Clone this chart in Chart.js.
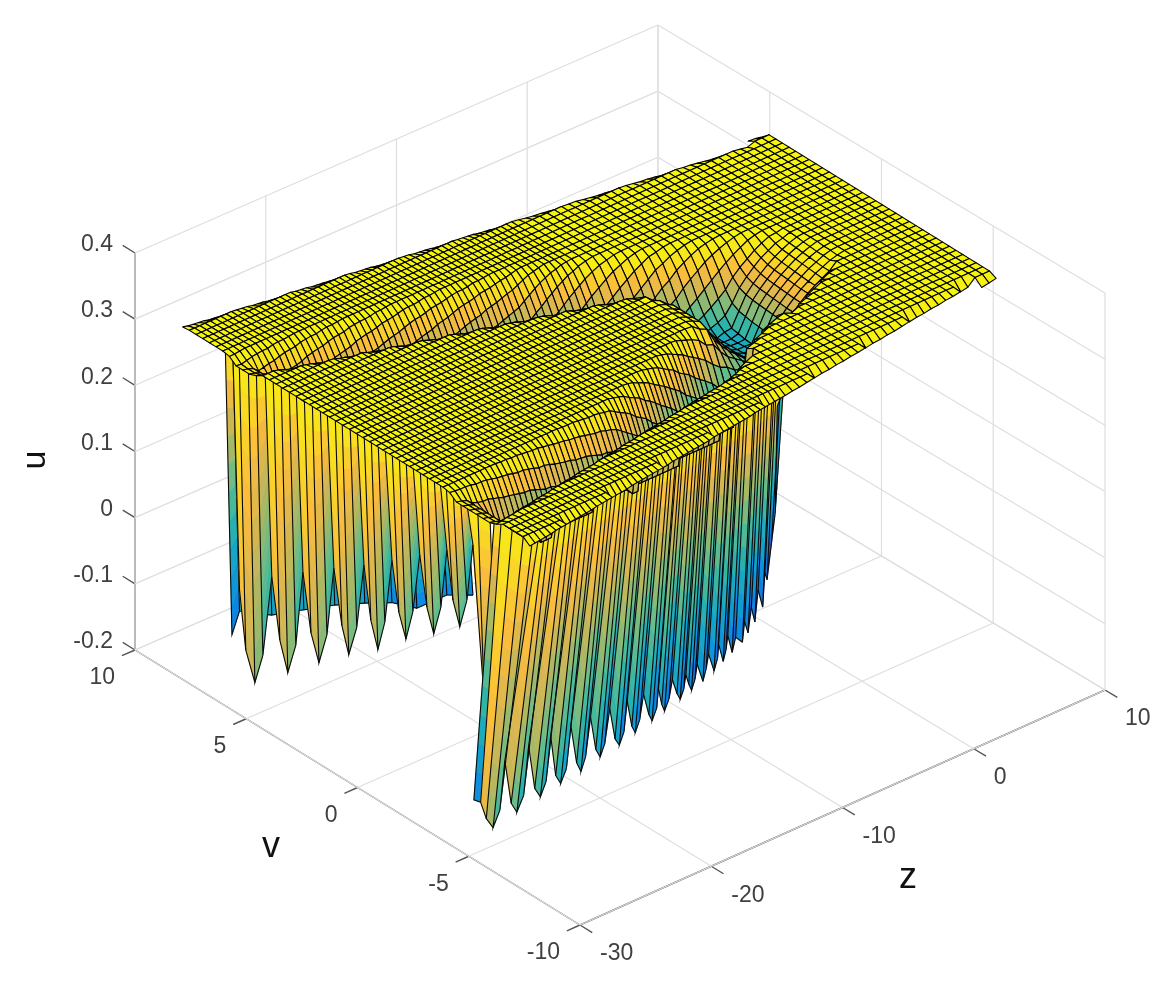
<!DOCTYPE html>
<html>
<head>
<meta charset="utf-8">
<title>u(z, v)</title>
<script src="https://cdn.jsdelivr.net/npm/chart.js@4/dist/chart.umd.min.js"></script>
<style>
html, body { margin: 0; background: #fff; }
#wrap { width: 1176px; height: 986px; }
</style>
</head>
<body>
<div id="wrap"><canvas id="chart"></canvas></div>
<script>
// ---- axes ----
const uTicks = [-0.2, -0.1, 0, 0.1, 0.2, 0.3, 0.4];
const vTicks = [10, 5, 0, -5, -10];
const zTicks = [-30, -20, -10, 0, 10];
const uLabels = ['-0.2', '-0.1', '0', '0.1', '0.2', '0.3', '0.4'];
const vLabels = ['10', '5', '0', '-5', '-10'];
const zLabels = ['-30', '-20', '-10', '0', '10'];

// ---- mesh of the surface ----
const zGrid = [-28.4,-28,-27.6,-27.2,-26.8,-26.4,-26,-25.6,-25.2,-24.8,-24.4,-24,-23.6,-23.2,-22.8,-22.4,-22,-21.6,-21.2,-20.8,-20.4,-20,-19.6,-19.2,-18.8,-18.4,-18,-17.6,-17.2,-16.8,-16.4,-16,-15.6,-15.2,-14.8,-14.4,-14,-13.6,-13.2,-12.8,-12.4,-12,-11.6,-11.2,-10.8,-10.4,-10,-9.6,-9.2,-8.8,-8.4,-8,-7.6,-7.2,-6.8,-6.4,-5.85,-5.3,-4.75,-4.2,-3.65,-3.1,-2.55,-2,-1.45,-0.9,-0.35,0.2,0.75,1.3,1.85,2.4,2.95,3.5,4.05,4.6,5.15,5.7,6.25,6.8,7.35,7.9,8.45,9,9.55,10.1,10.65,11.2];
const vGrid = [-7.1,-6.8,-6.5,-6.2,-5.9,-5.6,-5.3,-5,-4.7,-4.4,-4.1,-3.8,-3.5,-3.2,-2.9,-2.6,-2.3,-2,-1.7,-1.4,-1.1,-0.8,-0.5,-0.2,0.1,0.4,0.7,1,1.3,1.6,1.9,2.2,2.5,2.8,3.1,3.4,3.7,4,4.3,4.6,4.9,5.2,5.5,5.8,6.1,6.4,6.7,7,7.3,7.6,7.9,8.2,8.5,8.8,9.1];
// u in thousandths, one row per zGrid entry, columns along vGrid. "_n" = n empty cells, "a*n" = a repeated n times
const uRows = [
'_1 292 300*4 294 290*6 298 300*28 294 290*3 298 300*6 299',
'_1 293 300*4 295 288*6 297 300*28 291 288*2 289 298 300*6 297',
'_1 294 300*4 297 285*6 296 300*28 288 285*2 291 299 300*6 296',
'_1 295 300*4 298 275*5 278 296 300*27 298 275*2 278 293 300*7 295',
'_1 296 300*4 299 268*5 275 295 300*27 295 268*2 280 294 300*7 294',
'_1 298 300*5 289 258*4 273 293 300*27 292 258 262 282 295 300*7 292',
'_1 299 300*5 290 250*4 273 293 300*27 289 250 264 283 295 300*7 291',
'_1 300*6 291 241*3 243 270 292 300*26 298 241 246 268 286 297 300*7 290',
'_2 289 300*4 292 232*3 240 268 290 300*26 296 232 248 270 288 298 300*7 289',
'_2 290 300*4 294 225*3 237 265 288 300*26 293 229 250 272 289 298 300*6 299',
'_2 291 300*4 295 225*3 236 264 287 300*26 290 231 253 274 290 299 300*6 298',
'_2 292 300*4 296 215*3 234 262 286 299 300*24 299 217 235 257 278 293 300*7 297',
'_2 293 300*4 298 215*3 231 260 284 299 300*24 296 218 237 259 280 294 300*7 295',
'_2 294 300*4 299 215*3 228 258 282 298 300*24 294 220 239 262 282 295 300*7 294',
'_2 296 300*5 288 215*2 228 258 282 298 300*24 291 222 241 264 283 295 300*7 293',
'_2 297 300*5 290 215*2 225 255 280 297 300*24 288 225 246 268 286 297 300*7 291',
'_2 298 300*5 291 215*2 222 252 278 296 300*23 297 211 227 248 270 288 298 300*7 290',
'_2 299 300*5 292 215*2 219 249 275 295 300*23 294 212 229 250 272 289 298 300*7 289',
'_3 288 300*4 294 215*2 219 249 275 295 300*23 292 214 231 253 274 290 299 300*7',
'_3 289 300*4 295 215*2 216 246 273 293 300*23 289 217 235 257 278 293 300*7 298',
'_3 290 300*4 296 215*3 243 270 292 300*22 298 205 218 237 259 280 294 300*7 297',
'_3 291 300*4 297 215*3 240 268 290 300*22 295 206 220 239 262 282 295 300*7 296',
'_3 293 300*4 299 215*3 238 266 289 300*22 292 208 222 241 264 283 295 300*7 294',
'_3 294 300*5 288 215*2 237 265 288 300*22 290 209 224 245 267 285 296 300*7 293',
'_3 295 300*5 289 215*2 234 262 286 299 300*20 299 201 211 227 248 270 288 298 300*7 292',
'_3 296 300*5 291 215*2 232 261 285 299 300*20 296 201 212 229 250 272 289 298 300*7 291',
'_3 297 300*5 292 215*2 231 260 284 299 300*20 293 202 214 231 253 274 290 299 300*7 289',
'_3 298 300*5 293 215*2 228 258 282 298 300*20 290 204 216 234 256 277 292 300*8 288',
'_3 299 300*5 295 215*2 225 255 280 297 300*20 198 205 218 237 259 280 294 300*7 299',
'_4 288 300*4 296 215*2 222 252 278 296 300*19 297 199 206 220 239 262 282 295 300*7 297',
'_4 289 300*4 297 215*2 222 252 278 296 300*19 294 199 208 222 241 264 283 295 300*7 296',
'_4 291 300*4 299 205*2 219 249 275 295 300*19 291 200 210 223 244 266 285 296 300*7 295',
'_4 292 300*5 205*2 216 246 273 293 300*19 288 201 211 227 248 270 288 298 300*7 294',
'_4 293 300*5 289 205 213 243 270 292 300*18 298 198 201 212 229 250 272 289 298 300*7 292',
'_4 294 300*5 291 205 206 236 264 287 300*18 295 198 202 214 231 253 274 290 299 300*7 291',
'_4 295 300*5 292 205*2 228 258 282 298 300*17 292 198 204 216 234 256 277 292 300*8 290',
'_4 296 300*5 293 205*2 222 252 278 296 300*17 289 198 205 218 237 259 280 294 300*8 288',
'_4 297 300*5 294 205*2 216 246 273 293 300*16 298 198 199 206 220 239 262 282 295 300*7 299',
'_4 298 300*5 296 205*2 207 237 265 288 300*16 296 198 199 208 222 241 264 283 295 300*7 298',
'_4 300*6 297 205*3 231 260 284 299 300*15 293 198 200 210 223 244 266 285 296 300*7 296',
'_5 289 300*4 298 205*3 225 255 280 297 300*15 290 198 201 211 227 248 270 288 298 300*7 295',
'_5 290 300*5 205*3 216 246 273 293 300*14 299 198 198 201 212 229 250 272 289 298 300*7 294',
'_5 291 300*5 289 205*2 210 240 268 290 300*14 297 198 198 202 214 231 253 274 290 299 300*7 293',
'_5 292 300*5 290 205*3 234 262 286 299 300*13 294 198 198 204 216 234 256 277 292 300*8 291',
'_5 293 300*5 292 205*3 225 255 280 297 300*13 291 198 198 205 218 237 259 280 294 300*8 290',
'_5 294 300*5 293 205*3 219 249 275 295 300*13 288 198 199 206 220 239 262 282 295 300*8 289',
'_5 295 300*5 294 205*3 213 243 270 292 300*12 297 198 198 200 210 225 246 268 286 297 300*7 299',
'_5 296 300*5 296 205*3 206 236 264 287 300*12 294 198 198 202 214 231 253 274 290 299 300*7 298',
'_5 298 300*5 297 205*4 228 258 282 298 300*11 292 198 198 205 218 237 259 280 294 300*8 297',
'_5 299 300*5 298 205*4 222 252 278 296 300*11 289 198 200 210 223 244 266 285 296 300*8 296',
'_5 300*7 205*4 213 243 270 292 300*10 298 198 198 201 212 229 250 272 289 298 300*8 294',
'_6 289 300*5 289 205*3 207 237 265 288 300*10 295 198 198 205 217 235 257 278 293 300*9 293',
'_6 290 300*5 291 205*4 231 260 284 299 300*9 292 198 199 208 222 241 264 283 295 300*9 292',
'_6 291 300*5 294 205*4 222 252 278 296 300*9 290 198 201 211 227 248 270 288 298 300*9 290',
'_6 292 300*5 298 205*4 216 246 273 293 300*8 299 198 198 203 215 233 255 276 291 299 300*9 289',
'_6 293 300*6 289 205*3 210 240 268 290 300*8 296 198 199 206 220 239 262 282 295 300*10',
'_6 295 300*6 295 205*4 231 260 284 299 300*7 292 198 201 211 227 248 270 288 298 300*9 298',
'_6 296 300*7 205*4 219 249 272 290 296*6 290 270 198 205 217 235 257 278 293 300*10 296',
'_6 298 300*8 293 205*2 210 240 268 285 290*5 286 272 250 200 210 223 244 266 285 296 300*10 294',
'_6 300*9 297 205*2 215 235 252 264 272 276 278*3 274 262 238 202 214 231 253 274 290 299 300*10 293',
'_7 289 300*8 290 205 212 226 240 250 256 260 262*2 260 252 238 218 206 220 239 262 282 295 300*11 291',
'_7 291 300*8 295 205 210 222 232 238 242 245*3 243 236 225 212 212 228 249 271 288 298 300*11 289',
'_7 292 300*9 288 205 218 224 228 230*2 229 228 224 218 210 206 218 237 259 280 294 300*11 299',
'_7 294 300*9 293 205 212 216 218*3 217 215 212 208 204 204 224 244 266 285 296 300*11 298',
'_7 295 300*9 297 205*2 207 208*2 207 206 205 204 203*2 216 233 255 276 291 299 300*11 296',
'_7 297 300*10 290 203*3 202*2 201*2 200*2 208 222 241 264 283 295 300*12 294',
'_7 298 300*9 295 200*3 203*2 202 201 200*2 204 212 229 250 272 289 298 300*12 292',
'_7 300*11 198*3 199 200*3 201 203 205 218 237 259 280 294 300*13 291',
'_8 289 300*9 293 218*3 219 220 221 222 224 226 232 246 268 286 297 300*13 289',
'_8 291 300*9 297 238 240*3 241 242 243 244 246 250 260 276 291 299 300*12 299',
'_8 292 300*10 290 250 252*2 253 254 255 256 258 262 270 283 295 300*13 297',
'_8 294 300*10 295 260 262*2 263 264 265 266 268 272 278 289 298 300*13 295',
'_8 295 300*11 270 271*2 272 273 274 275 277 281 286 295 300*14 294',
'_8 297 300*11 293 278*2 279 280 281 282 284 287 292 298 300*14 292',
'_8 299 300*11 298 284 285 286 287 288 289 290 293 297 300*15 290',
'_9 288 300*11 290 290 291 292 293 294 295 296 298 300*15 288',
'_9 290 300*12 295 296*2 297 298 299 300*16 298',
'_9 291 300*12 298 299*2 300*19 297',
'_9 293 300*34 295',
'_9 294 300*34 293',
'_9 296 300*34 291',
'_9 297 300*34 290',
'_9 299 300*34',
'_10 288 300*32 298',
'_10 290 300*32 296',
'_9 291 300*34 294',
'_9 293 300*34 293',
'_9 295 300*34 291'
];

// ---- folded sheet hanging below the front of the surface ----
const rightTopZ = [-28.2,-28.2,-28.2,-28.2,-28.2,-27.39,-26.9,-26.46,-25.94,-25.54,-25.06,-24.62,-24.18,-23.82,-23.43,-23.03,-22.59,-22.24,-21.8,-21.45,-21.1,-20.7,-20.3,-19.95,-19.6,-19.2,-18.8,-18.46,-18.1,-17.84,-17.49,-17.22,-16.87,-16.56,-16.17,-15.9,-15.55,-15.42,-15.16,-14.94,-14.58,-14.32,-13.97,-13.7,-13.44,-13.26,-13.04,-12.82,-12.56,-12.38,-11.94,-11.68,-11.5,-11.06,-10.8,-10.71,-10.36,-10.14,-10,-9.66,-9.39,-8.86,-8.69,-8.42,-8.16,-7.9,-7.63,-7.28,-7.1,-6.93,-6.58,-6.31,-6.14];
const rightTopV = [-5.1,-5.4,-5.9,-6.4,-6.8,-6.63,-6.6,-6.56,-6.53,-6.5,-6.47,-6.44,-6.41,-6.38,-6.35,-6.33,-6.29,-6.27,-6.24,-6.21,-6.19,-6.16,-6.14,-6.11,-6.09,-6.06,-6.03,-6.01,-5.98,-5.96,-5.94,-5.92,-5.9,-5.87,-5.85,-5.83,-5.8,-5.79,-5.78,-5.76,-5.74,-5.72,-5.69,-5.67,-5.66,-5.64,-5.63,-5.61,-5.6,-5.58,-5.55,-5.53,-5.52,-5.49,-5.47,-5.47,-5.44,-5.43,-5.42,-5.39,-5.37,-5.34,-5.32,-5.31,-5.29,-5.27,-5.25,-5.23,-5.21,-5.2,-5.18,-5.16,-5.15];
const rightBotZ = [-30,-29.4,-28.9,-28.3,-27.7,-27.25,-26.7,-26.2,-25.6,-25.15,-24.6,-24.1,-23.6,-23.2,-22.75,-22.3,-21.8,-21.4,-20.9,-20.5,-20.1,-19.65,-19.2,-18.8,-18.4,-17.95,-17.5,-17.1,-16.7,-16.4,-16,-15.7,-15.3,-14.95,-14.5,-14.2,-13.8,-13.65,-13.35,-13.1,-12.7,-12.4,-12,-11.7,-11.4,-11.2,-10.95,-10.7,-10.4,-10.2,-9.7,-9.4,-9.2,-8.7,-8.4,-8.3,-7.9,-7.65,-7.5,-7.1,-6.8,-6.2,-6,-5.7,-5.4,-5.1,-4.8,-4.4,-4.2,-4,-3.6,-3.3,-3.1];
const rightBotV = [-5.23,-5.18,-5.14,-5.09,-5.04,-5,-4.96,-4.92,-4.87,-4.83,-4.78,-4.74,-4.7,-4.67,-4.63,-4.59,-4.55,-4.52,-4.48,-4.44,-4.41,-4.37,-4.34,-4.3,-4.27,-4.23,-4.2,-4.16,-4.13,-4.1,-4.07,-4.05,-4.01,-3.98,-3.95,-3.92,-3.89,-3.88,-3.85,-3.83,-3.8,-3.77,-3.74,-3.71,-3.69,-3.67,-3.65,-3.63,-3.61,-3.59,-3.55,-3.52,-3.51,-3.46,-3.44,-3.43,-3.4,-3.38,-3.37,-3.33,-3.31,-3.26,-3.24,-3.22,-3.19,-3.17,-3.14,-3.11,-3.09,-3.07,-3.04,-3.02,-3];
const rightBotU = [-0.11,-0.12,-0.15,-0.17,-0.15,-0.08,-0.15,-0.169,-0.15,-0.08,-0.15,-0.168,-0.15,-0.085,-0.15,-0.167,-0.15,-0.09,-0.15,-0.168,-0.15,-0.095,-0.148,-0.164,-0.148,-0.1,-0.15,-0.164,-0.148,-0.105,-0.147,-0.16,-0.145,-0.11,-0.145,-0.158,-0.143,-0.115,-0.142,-0.155,-0.14,-0.115,-0.14,-0.152,-0.14,-0.12,-0.137,-0.149,-0.135,-0.115,-0.146,-0.13,-0.11,-0.141,-0.125,-0.105,-0.135,-0.12,-0.1,-0.13,-0.11,-0.124,-0.095,-0.115,-0.08,-0.105,-0.06,-0.09,-0.04,-0.053,0,0.04,0.2];
const rightTone = [178,262,240,215,195,250,225,205,190,240,215,198,185,232,205,190,178,222,200,185,172,215,195,180,168,210,190,175,165,205,185,172,162,200,182,170,160,198,180,168,158,195,178,165,155,192,175,162,152,185,165,152,182,162,150,180,160,150,175,155,175,155,172,152,170,150,168,148,165,145,180,160];

const leftTopZ = -28.3, leftBotZ = -27.8;
const leftV = [6.6,6.32,5.91,5.55,5.15,4.79,4.43,4.07,3.75,3.39,3.03,2.67,2.36,2,1.69,1.33,1.01,0.7,0.38,0.07,-0.25,-0.56,-0.88,-1.19,-1.5,-1.82,-2.13,-2.45,-2.72,-2.99,-3.3,-3.62,-3.89,-4.4,-4.95];
const leftU = [-0.058,-0.143,-0.184,-0.135,-0.008,-0.096,-0.138,-0.089,0.028,-0.056,-0.094,-0.044,0.063,-0.016,-0.054,-0.005,0.096,0.019,-0.019,0.029,0.129,0.057,0.023,0.071,0.163,0.091,0.057,0.104,0.196,0.126,0.092,0.139,0.228,0.004,0.016];
const leftTone = [270,250,232,212,268,250,232,212,268,250,232,212,268,248,228,208,266,245,225,205,266,245,222,202,264,240,222,200,262,240,220,198,265,240];

const backV = [6.94,6.6,5.15,3.71,2.32,0.97,-0.25,-1.37,-2.72,-3.89];
const backU = [-0.133,-0.09,-0.066,-0.028,0.008,0.039,0.065,0.08,0.128,0.152];
const backTone = [172,195,190,195,190,180,175,175,175];

// ---- colours: tone value (thousandths) to colour ----
const toneStops  = [120, 150, 165, 180, 195, 210, 225, 240, 255, 270, 285, 300];
const toneColors = ['#35259a', '#2a45c8', '#0f6fe0', '#0d8ce2', '#12a3ca', '#2cb3a8', '#62bc8c', '#a2b868', '#d4b652', '#fbbc3c', '#f8e01e', '#f6f60c'];
const wallTopTone = 292;

// projection onto the page
function projX(z, v) { return 580 + (z + 30) * 13.125 - (v + 10) * 22.25; }
function projY(z, v, u) { return 925 - (z + 30) * 5.875 - (v + 10) * 13.75 - (u + 0.2) * 661.7; }
function pt(z, v, u) { return { x: projX(z, v), y: projY(z, v, u) }; }
// the box in the picture is a little keystoned at its far corner
function boxPt(z, v, u) {
    const k = (z + 30) * (v + 10);
    return { x: projX(z, v) - k * 0.0025, y: projY(z, v, u) + k * 0.00875 };
}

function parseRow(s) {
    const out = [];
    s.split(' ').forEach(t => {
        if (t[0] === '_') {
            for (let n = +t.slice(1); n > 0; n--) out.push(null);
        } else {
            const [a, b] = t.split('*');
            for (let n = +(b || 1); n > 0; n--) out.push(+a);
        }
    });
    while (out.length < vGrid.length) out.push(null);
    return out;
}
const uTable = uRows.map(parseRow);

function hexRgb(h) { return [1, 3, 5].map(i => parseInt(h.slice(i, i + 2), 16)); }
const toneRgb = toneColors.map(hexRgb);
function toneColor(t) {
    if (t <= toneStops[0]) return toneColors[0];
    for (let i = 1; i < toneStops.length; i++) {
        if (t <= toneStops[i]) {
            const f = (t - toneStops[i - 1]) / (toneStops[i] - toneStops[i - 1]);
            const c = toneRgb[i - 1].map((a, k) => Math.round(a + (toneRgb[i][k] - a) * f));
            return `rgb(${c[0]},${c[1]},${c[2]})`;
        }
    }
    return toneColors[toneColors.length - 1];
}

// ---- datasets ----
const surfacePoints = [];
zGrid.forEach((z, i) => vGrid.forEach((v, j) => {
    const u = uTable[i][j];
    surfacePoints.push(u === null ? { x: null, y: null } : pt(z, v, u / 1000));
}));
const backPoints = [...backV.map(v => pt(leftTopZ, v, 0.3)), ...backV.map((v, k) => pt(leftBotZ, v, backU[k]))];
const leftPoints = [...leftV.map(v => pt(leftTopZ, v, 0.3)), ...leftV.map((v, k) => pt(leftBotZ, v, leftU[k]))];
const rightPoints = [...rightTopZ.map((z, k) => pt(z, rightTopV[k], 0.3)), ...rightBotZ.map((z, k) => pt(z, rightBotV[k], rightBotU[k]))];

const datasets = [
    { label: 'surface', data: surfacePoints, pointRadius: 0, showLine: false },
    { label: 'back sheet', data: backPoints, pointRadius: 0, showLine: false },
    { label: 'left sheet', data: leftPoints, pointRadius: 0, showLine: false },
    { label: 'right sheet', data: rightPoints, pointRadius: 0, showLine: false }
];
function addLine(points, color, width) {
    datasets.push({ data: points, showLine: true, pointRadius: 0, borderColor: color, borderWidth: width, fill: false });
}
const gridColor = '#dedede', axisColor = '#555555';
const uMin = uTicks[0], uMax = uTicks[uTicks.length - 1];
uTicks.forEach(u => {
    addLine([boxPt(-30, 10, u), boxPt(10, 10, u)], gridColor, 1.2);
    addLine([boxPt(10, 10, u), boxPt(10, -10, u)], gridColor, 1.2);
});
zTicks.forEach(z => {
    addLine([boxPt(z, 10, uMin), boxPt(z, 10, uMax)], gridColor, 1.2);
    addLine([boxPt(z, -10, uMin), boxPt(z, 10, uMin)], gridColor, 1.2);
});
vTicks.forEach(v => {
    addLine([boxPt(10, v, uMin), boxPt(10, v, uMax)], gridColor, 1.2);
    addLine([boxPt(-30, v, uMin), boxPt(10, v, uMin)], gridColor, 1.2);
});
addLine([boxPt(-30, 10, uMin), boxPt(-30, 10, uMax)], axisColor, 1.4);
addLine([boxPt(-30, 10, uMin), boxPt(-30, -10, uMin)], axisColor, 1.4);
addLine([boxPt(-30, -10, uMin), boxPt(10, -10, uMin)], axisColor, 1.4);
uTicks.forEach(u => addLine([boxPt(-30, 10, u), boxPt(-30, 10.55, u)], axisColor, 1.4));
vTicks.forEach(v => addLine([boxPt(-30, v, uMin), boxPt(-31, v, uMin)], axisColor, 1.4));
zTicks.forEach(z => addLine([boxPt(z, -10, uMin), boxPt(z, -10.55, uMin)], axisColor, 1.4));

// ---- drawing of the mesh from the points the scales placed ----
function drawSheet(ctx, pts, tones) {
    const n = pts.length / 2, segs = 10;
    for (let k = 0; k < n - 1; k++) {
        const a = pts[k], b = pts[k + 1], c = pts[n + k + 1], d = pts[n + k];
        for (let s = 0; s < segs; s++) {
            const t0 = s / segs, t1 = (s + 1) / segs;
            const col = toneColor(wallTopTone + (tones[k] - wallTopTone) * Math.pow((t0 + t1) / 2, 0.8));
            ctx.beginPath();
            ctx.moveTo(a.x + (d.x - a.x) * t0, a.y + (d.y - a.y) * t0);
            ctx.lineTo(b.x + (c.x - b.x) * t0, b.y + (c.y - b.y) * t0);
            ctx.lineTo(b.x + (c.x - b.x) * t1, b.y + (c.y - b.y) * t1);
            ctx.lineTo(a.x + (d.x - a.x) * t1, a.y + (d.y - a.y) * t1);
            ctx.closePath();
            ctx.fillStyle = col;
            ctx.strokeStyle = col;
            ctx.lineWidth = 0.5;
            ctx.fill();
            ctx.stroke();
        }
    }
    ctx.strokeStyle = '#0a0a0a';
    ctx.lineWidth = 1.1;
    for (let k = 0; k < n; k++) {
        ctx.beginPath();
        ctx.moveTo(pts[k].x, pts[k].y);
        ctx.lineTo(pts[n + k].x, pts[n + k].y);
        if (k < n - 1) ctx.lineTo(pts[n + k + 1].x, pts[n + k + 1].y);
        ctx.stroke();
    }
}

function drawSurface(ctx, pts) {
    const nc = vGrid.length;
    ctx.lineWidth = 1.1;
    ctx.strokeStyle = '#000';
    ctx.lineJoin = 'round';
    for (let i = zGrid.length - 2; i >= 0; i--) {
        for (let j = nc - 2; j >= 0; j--) {
            const q = [uTable[i][j], uTable[i][j + 1], uTable[i + 1][j + 1], uTable[i + 1][j]];
            if (q.some(x => x === null)) continue;
            const tone = (q[0] + q[1] + q[2] + q[3]) / 4;
            const a = pts[i * nc + j], b = pts[i * nc + j + 1], c = pts[(i + 1) * nc + j + 1], d = pts[(i + 1) * nc + j];
            ctx.beginPath();
            ctx.moveTo(a.x, a.y);
            ctx.lineTo(b.x, b.y);
            ctx.lineTo(c.x, c.y);
            ctx.lineTo(d.x, d.y);
            ctx.closePath();
            ctx.fillStyle = toneColor(tone);
            ctx.fill();
            ctx.stroke();
        }
    }
}

const meshPlugin = {
    id: 'mesh',
    afterDatasetsDraw(chart) {
        const ctx = chart.ctx;
        ctx.save();
        drawSheet(ctx, chart.getDatasetMeta(1).data, backTone);
        drawSheet(ctx, chart.getDatasetMeta(2).data, leftTone);
        drawSheet(ctx, chart.getDatasetMeta(3).data, rightTone);
        drawSurface(ctx, chart.getDatasetMeta(0).data);
        ctx.restore();
    }
};

const textPlugin = {
    id: 'axisText',
    afterDraw(chart) {
        const ctx = chart.ctx, sx = chart.scales.x, sy = chart.scales.y;
        const put = (p, label, dx, dy) => ctx.fillText(label, sx.getPixelForValue(p.x) + dx, sy.getPixelForValue(p.y) + dy);
        ctx.save();
        ctx.fillStyle = '#404040';
        ctx.font = '23px "Liberation Sans", Arial, sans-serif';
        ctx.textBaseline = 'middle';
        ctx.textAlign = 'right';
        uTicks.forEach((u, k) => put(boxPt(-30, 10, u), uLabels[k], -22, -8));
        vTicks.forEach((v, k) => put(boxPt(-30, v, uMin), vLabels[k], -20, 28));
        ctx.textAlign = 'left';
        zTicks.forEach((z, k) => put(boxPt(z, -10, uMin), zLabels[k], 20, 29));
        ctx.fillStyle = '#111111';
        ctx.font = '36px "Liberation Sans", Arial, sans-serif';
        ctx.textAlign = 'center';
        ctx.fillText('v', 271, 847);
        ctx.fillText('z', 908, 878);
        ctx.font = '34px "Liberation Sans", Arial, sans-serif';
        ctx.translate(36, 460);
        ctx.rotate(-Math.PI / 2);
        ctx.fillText('u', 0, 0);
        ctx.restore();
    }
};

new Chart(document.getElementById('chart'), {
    type: 'scatter',
    data: { datasets },
    options: {
        responsive: true,
        maintainAspectRatio: false,
        animation: false,
        events: [],
        layout: { padding: 0 },
        plugins: { legend: { display: false }, tooltip: { enabled: false } },
        scales: {
            x: { type: 'linear', min: 0, max: 1176, display: false },
            y: { type: 'linear', min: 0, max: 986, reverse: true, display: false }
        }
    },
    plugins: [meshPlugin, textPlugin]
});
</script>
</body>
</html>
